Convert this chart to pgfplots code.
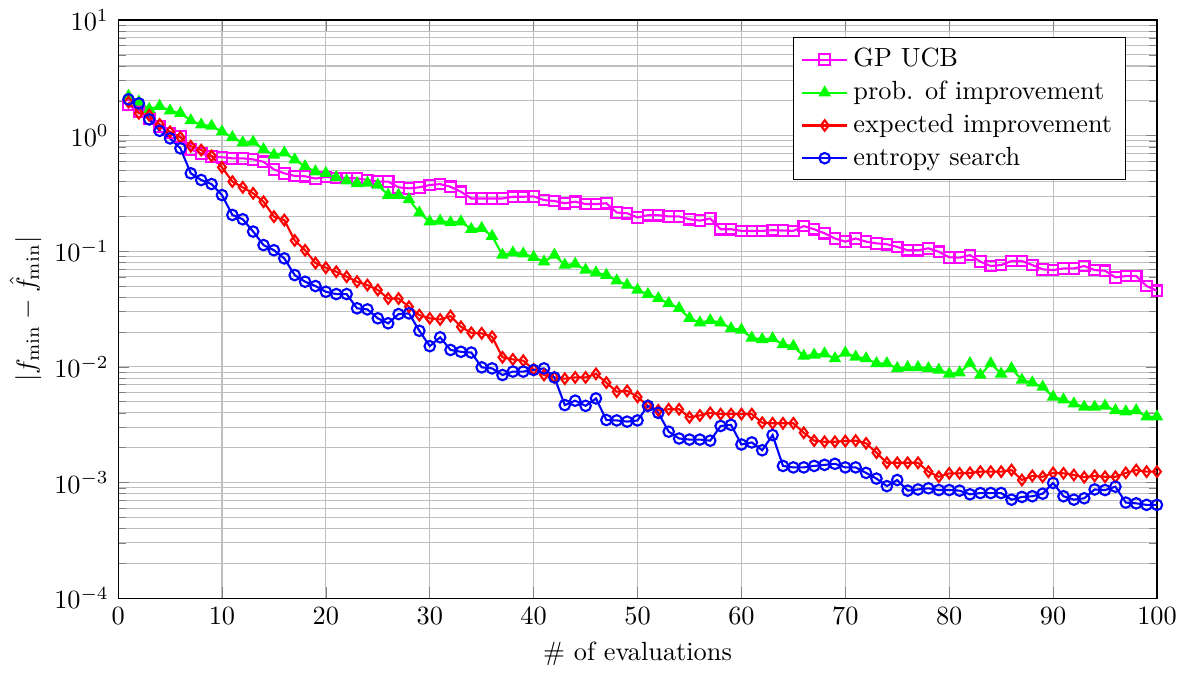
\documentclass[border=0pt]{standalone}
\usepackage{pgfplots}
\pgfplotsset{compat=1.18}
\definecolor{pmag}{RGB}{255,0,255}
\definecolor{pgreen}{RGB}{0,255,0}
\definecolor{pred}{RGB}{255,0,0}
\definecolor{pblue}{RGB}{0,0,255}
\begin{document}
\begin{tikzpicture}
\begin{axis}[
  scale only axis,
  width=395pt, height=219.8pt,
  xmin=0, xmax=100, ymin=1e-4, ymax=10,
  ymode=log,
  xtick={0,10,...,100},
  grid=both,
  minor x tick num=0,
  xlabel={\# of evaluations},
  ylabel={$|f_{\min}-\hat{f}_{\min}|$},
  ylabel shift=-2pt,
  legend pos=north east,
  legend cell align=left,
  every axis plot/.append style={thick},
]
\addplot[pmag, mark=square] coordinates {
(1,1.84)(2,1.61)(3,1.41)(4,1.2)(5,1.05)(6,0.98)(7,0.76)(8,0.70)(9,0.66)(10,0.65)
(11,0.636)(12,0.636)(13,0.623)(14,0.594)(15,0.51)(16,0.472)(17,0.448)(18,0.445)(19,0.425)(20,0.44)
(21,0.43)(22,0.43)(23,0.427)(24,0.413)(25,0.40)(26,0.40)(27,0.357)(28,0.35)(29,0.357)(30,0.374)
(31,0.381)(32,0.361)(33,0.327)(34,0.286)(35,0.286)(36,0.286)(37,0.286)(38,0.296)(39,0.296)(40,0.298)
(41,0.277)(42,0.272)(43,0.26)(44,0.268)(45,0.256)(46,0.256)(47,0.26)(48,0.216)(49,0.213)(50,0.196)
(51,0.205)(52,0.205)(53,0.2)(54,0.2)(55,0.189)(56,0.184)(57,0.192)(58,0.155)(59,0.155)(60,0.15)
(61,0.15)(62,0.15)(63,0.152)(64,0.151)(65,0.15)(66,0.165)(67,0.155)(68,0.143)(69,0.129)(70,0.121)
(71,0.129)(72,0.121)(73,0.117)(74,0.115)(75,0.109)(76,0.102)(77,0.102)(78,0.106)(79,0.099)(80,0.0886)
(81,0.088)(82,0.0926)(83,0.0812)(84,0.0745)(85,0.076)(86,0.0823)(87,0.0823)(88,0.076)(89,0.0697)(90,0.0687)
(91,0.071)(92,0.071)(93,0.0745)(94,0.0687)(95,0.0678)(96,0.0594)(97,0.061)(98,0.061)(99,0.05)(100,0.0455)
};
\addlegendentry{GP UCB}
\addplot[pgreen, mark=triangle*] coordinates {
(1,2.2)(2,1.96)(3,1.69)(4,1.80)(5,1.64)(6,1.56)(7,1.35)(8,1.24)(9,1.21)(10,1.08)
(11,0.966)(12,0.87)(13,0.88)(14,0.76)(15,0.68)(16,0.71)(17,0.62)(18,0.54)(19,0.488)(20,0.472)
(21,0.436)(22,0.407)(23,0.386)(24,0.39)(25,0.374)(26,0.306)(27,0.306)(28,0.281)(29,0.215)(30,0.18)
(31,0.183)(32,0.177)(33,0.18)(34,0.155)(35,0.158)(36,0.135)(37,0.0927)(38,0.097)(39,0.095)(40,0.089)
(41,0.081)(42,0.0927)(43,0.076)(44,0.0775)(45,0.0688)(46,0.0652)(47,0.0622)(48,0.0556)(49,0.051)(50,0.0462)
(51,0.0424)(52,0.0391)(53,0.0354)(54,0.0321)(55,0.0263)(56,0.0241)(57,0.0252)(58,0.0241)(59,0.0215)(60,0.0209)
(61,0.0178)(62,0.0173)(63,0.0176)(64,0.0156)(65,0.0151)(66,0.0124)(67,0.0127)(68,0.013)(69,0.0118)(70,0.0132)
(71,0.0122)(72,0.0118)(73,0.0107)(74,0.0107)(75,0.0097)(76,0.0099)(77,0.0099)(78,0.0097)(79,0.0094)(80,0.0087)
(81,0.0089)(82,0.0107)(83,0.0085)(84,0.0107)(85,0.0087)(86,0.0097)(87,0.0077)(88,0.0073)(89,0.0067)(90,0.0055)
(91,0.0052)(92,0.0048)(93,0.0045)(94,0.0045)(95,0.0046)(96,0.0042)(97,0.0041)(98,0.0042)(99,0.0037)(100,0.0037)
};
\addlegendentry{prob. of improvement}
\addplot[pred, mark=diamond] coordinates {
(1,1.95)(2,1.56)(3,1.5)(4,1.25)(5,1.08)(6,0.966)(7,0.81)(8,0.75)(9,0.667)(10,0.532)
(11,0.40)(12,0.357)(13,0.317)(14,0.268)(15,0.199)(16,0.186)(17,0.124)(18,0.102)(19,0.079)(20,0.072)
(21,0.0665)(22,0.0602)(23,0.0545)(24,0.051)(25,0.0462)(26,0.039)(27,0.039)(28,0.0331)(29,0.028)(30,0.0263)
(31,0.0257)(32,0.0275)(33,0.0222)(34,0.0197)(35,0.0195)(36,0.0182)(37,0.0121)(38,0.0116)(39,0.0113)(40,0.0095)
(41,0.0085)(42,0.0081)(43,0.0079)(44,0.0081)(45,0.0081)(46,0.0087)(47,0.0073)(48,0.0061)(49,0.0062)(50,0.0055)
(51,0.0046)(52,0.0042)(53,0.0043)(54,0.0043)(55,0.00366)(56,0.0038)(57,0.004)(58,0.0039)(59,0.0039)(60,0.0039)
(61,0.0039)(62,0.00329)(63,0.00325)(64,0.00325)(65,0.00325)(66,0.00269)(67,0.0023)(68,0.00225)(69,0.00225)(70,0.00228)
(71,0.0023)(72,0.00218)(73,0.00181)(74,0.00148)(75,0.00148)(76,0.00148)(77,0.00148)(78,0.00124)(79,0.00112)(80,0.0012)
(81,0.0012)(82,0.00121)(83,0.00124)(84,0.00124)(85,0.00124)(86,0.00128)(87,0.00105)(88,0.00114)(89,0.00112)(90,0.00121)
(91,0.0012)(92,0.00116)(93,0.00111)(94,0.00114)(95,0.00112)(96,0.00112)(97,0.00121)(98,0.00128)(99,0.00124)(100,0.00124)
};
\addlegendentry{expected improvement}
\addplot[pblue, mark=o] coordinates {
(1,2.06)(2,1.9)(3,1.38)(4,1.1)(5,0.946)(6,0.776)(7,0.472)(8,0.413)(9,0.381)(10,0.306)
(11,0.206)(12,0.189)(13,0.148)(14,0.113)(15,0.102)(16,0.0867)(17,0.0622)(18,0.0545)(19,0.05)(20,0.0446)
(21,0.0426)(22,0.0426)(23,0.0321)(24,0.0314)(25,0.0263)(26,0.0238)(27,0.0286)(28,0.029)(29,0.0205)(30,0.0151)
(31,0.018)(32,0.014)(33,0.0135)(34,0.0133)(35,0.0099)(36,0.0097)(37,0.0085)(38,0.0091)(39,0.0091)(40,0.0094)
(41,0.0097)(42,0.0081)(43,0.00467)(44,0.0051)(45,0.0046)(46,0.00533)(47,0.00347)(48,0.00344)(49,0.00336)(50,0.00344)
(51,0.0046)(52,0.004)(53,0.00275)(54,0.0024)(55,0.00235)(56,0.00235)(57,0.0023)(58,0.00308)(59,0.00315)(60,0.00213)
(61,0.00222)(62,0.0019)(63,0.00257)(64,0.00139)(65,0.00135)(66,0.00135)(67,0.00139)(68,0.00142)(69,0.00145)(70,0.00135)
(71,0.00135)(72,0.00121)(73,0.00108)(74,0.00093)(75,0.00105)(76,0.00085)(77,0.00087)(78,0.00089)(79,0.00086)(80,0.00086)
(81,0.00085)(82,0.00079)(83,0.00081)(84,0.00081)(85,0.00081)(86,0.00071)(87,0.00075)(88,0.00076)(89,0.0008)(90,0.00099)
(91,0.00076)(92,0.00071)(93,0.00073)(94,0.00087)(95,0.00086)(96,0.00092)(97,0.00067)(98,0.00066)(99,0.00064)(100,0.00064)
};
\addlegendentry{entropy search}
\end{axis}
\path (current axis.south west) ++(-44.9pt,-30pt) rectangle ++(451.7pt,257.4pt);
\end{tikzpicture}
\end{document}
